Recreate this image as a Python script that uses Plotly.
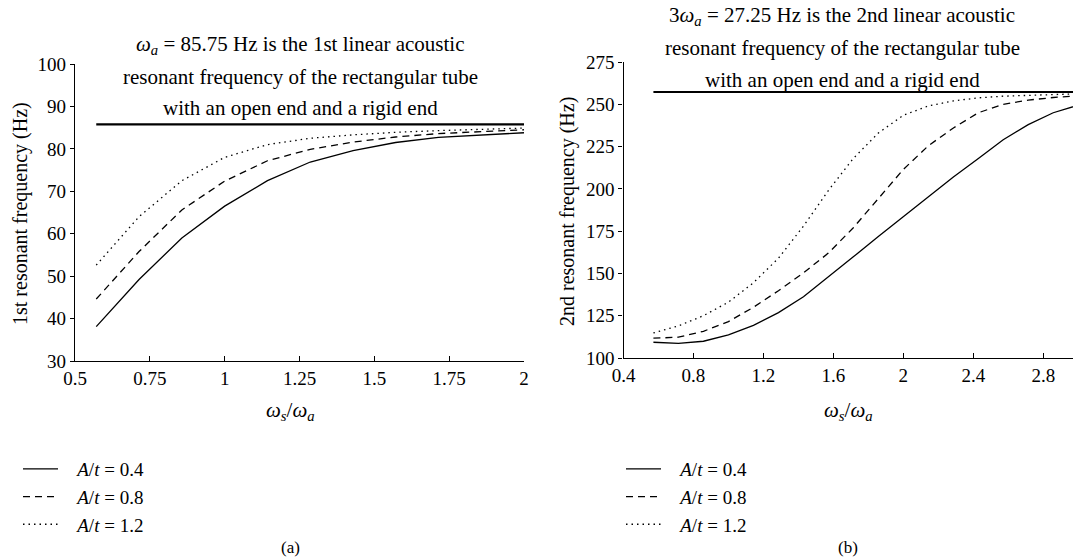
import plotly.graph_objects as go

# ---------------- data ----------------
x_a = [0.571, 0.714, 0.857, 1.0, 1.143, 1.286, 1.429, 1.571, 1.714, 1.857, 2.0]
a_04 = [38.1, 49.2, 59.0, 66.5, 72.5, 76.9, 79.6, 81.5, 82.7, 83.3, 83.8]
a_08 = [44.6, 55.8, 65.6, 72.4, 77.2, 79.9, 81.6, 82.8, 83.6, 84.1, 84.5]
a_12 = [52.6, 64.0, 72.5, 78.0, 81.0, 82.5, 83.3, 83.9, 84.3, 84.6, 84.9]
a_linear = 85.75

x_b = [0.571, 0.714, 0.857, 1.0, 1.143, 1.286, 1.429, 1.571, 1.714, 1.857,
       2.0, 2.143, 2.286, 2.429, 2.571, 2.714, 2.857, 3.0]
b_04 = [109.3, 108.6, 109.9, 113.7, 119.3, 126.8, 136.2, 147.8, 159.8, 171.8,
        183.5, 195.5, 207.0, 218.0, 229.0, 238.0, 245.0, 249.5]
b_08 = [111.7, 112.3, 115.8, 121.5, 130.0, 139.8, 150.3, 162.0, 177.0, 194.0,
        211.5, 225.5, 236.0, 245.0, 250.0, 252.5, 254.0, 255.0]
b_12 = [114.8, 119.0, 125.0, 133.0, 144.5, 159.0, 178.0, 199.0, 218.0, 233.0,
        243.5, 249.0, 252.0, 253.8, 254.8, 255.4, 255.8, 256.2]
b_linear = 257.25

series_labels = ["<i>A</i>/<i>t</i> = 0.4", "<i>A</i>/<i>t</i> = 0.8", "<i>A</i>/<i>t</i> = 1.2"]
xticks_a = [0.5, 0.75, 1, 1.25, 1.5, 1.75, 2]
xticklabels_a = ["0.5", "0.75", "1", "1.25", "1.5", "1.75", "2"]
yticks_a = [30, 40, 50, 60, 70, 80, 90, 100]
xticks_b = [0.4, 0.8, 1.2, 1.6, 2.0, 2.4, 2.8]
xticklabels_b = ["0.4", "0.8", "1.2", "1.6", "2", "2.4", "2.8"]
yticks_b = [100, 125, 150, 175, 200, 225, 250, 275]

# ---------------- style ----------------
FONT = "Liberation Serif"
W, H = 1073, 560
dashes = ["solid", "7px,5px", "1.5px,4px"]
LW = 1.3
PAD = "&nbsp;&nbsp;&nbsp;"

fig = go.Figure()

for ys, lab, d in zip([a_04, a_08, a_12], series_labels, dashes):
    fig.add_trace(go.Scatter(x=x_a, y=ys, mode="lines", name=PAD + lab,
                             line=dict(color="black", width=LW, dash=d),
                             xaxis="x", yaxis="y", legend="legend"))
fig.add_trace(go.Scatter(x=[x_a[0], x_a[-1]], y=[a_linear, a_linear], mode="lines",
                         line=dict(color="black", width=2.2), showlegend=False,
                         xaxis="x", yaxis="y"))

for ys, lab, d in zip([b_04, b_08, b_12], series_labels, dashes):
    fig.add_trace(go.Scatter(x=x_b, y=ys, mode="lines", name=PAD + lab,
                             line=dict(color="black", width=LW, dash=d),
                             xaxis="x2", yaxis="y2", legend="legend2"))
fig.add_trace(go.Scatter(x=[x_b[0], x_b[-1]], y=[b_linear, b_linear], mode="lines",
                         line=dict(color="black", width=2.2), showlegend=False,
                         xaxis="x2", yaxis="y2"))

tickfont = dict(family=FONT, size=19, color="black")
common_x = dict(showline=True, linecolor="black", linewidth=1.2, ticks="inside",
                ticklen=5, tickcolor="black", showgrid=False, zeroline=False,
                tickfont=tickfont, automargin=False)
common_y = dict(showline=True, linecolor="black", linewidth=1.2, ticks="outside",
                ticklen=4, tickcolor="black", showgrid=False, zeroline=False,
                tickfont=tickfont, automargin=False)

legfont = dict(family=FONT, size=19, color="black")
fig.update_layout(
    template="none",
    width=W, height=H, margin=dict(l=0, r=0, t=0, b=0, autoexpand=False),
    plot_bgcolor="white", paper_bgcolor="white",
    font=dict(family=FONT, size=21, color="black"),
    xaxis=dict(common_x, domain=[75 / W, 524 / W], range=[0.5, 2.0],
               tickvals=xticks_a, ticktext=xticklabels_a, anchor="y"),
    yaxis=dict(common_y, domain=[(H - 361) / H, (H - 64) / H], range=[30, 100],
               tickvals=yticks_a, anchor="x"),
    xaxis2=dict(common_x, domain=[623.5 / W, 1.0], range=[0.4, 2.97],
                tickvals=xticks_b, ticktext=xticklabels_b, anchor="y2"),
    yaxis2=dict(common_y, domain=[(H - 358) / H, (H - 62) / H], range=[100, 275],
                tickvals=yticks_b, anchor="x2"),
    legend=dict(x=18 / W, y=(H - 450) / H, xanchor="left", yanchor="top",
                bgcolor="rgba(0,0,0,0)", font=legfont, itemwidth=35,
                tracegroupgap=0),
    legend2=dict(x=621 / W, y=(H - 450) / H, xanchor="left", yanchor="top",
                 bgcolor="rgba(0,0,0,0)", font=legfont, itemwidth=35,
                 tracegroupgap=0),
)

ann = []
def add_text(x, y, text, size=21, angle=0):
    ann.append(dict(x=x / W, y=1 - y / H, xref="paper", yref="paper", text=text,
                    showarrow=False, xanchor="center", yanchor="middle",
                    font=dict(family=FONT, size=size, color="black"), textangle=angle))

# titles (left)
add_text(300, 45, "<i>ω</i><sub><i>a</i></sub> = 85.75 Hz is the 1st linear acoustic")
add_text(300, 77, "resonant frequency of the rectangular tube")
add_text(300, 108, "with an open end and a rigid end")
# titles (right)
add_text(842, 16, "3<i>ω</i><sub><i>a</i></sub> = 27.25 Hz is the 2nd linear acoustic")
add_text(842, 48, "resonant frequency of the rectangular tube")
add_text(842, 80, "with an open end and a rigid end")
# axis titles
add_text(20, 214, "1st resonant frequency (Hz)", size=20, angle=-90)
add_text(567, 212, "2nd resonant frequency (Hz)", size=20, angle=-90)
add_text(290, 411, "<i>ω</i><sub><i>s</i></sub>/<i>ω</i><sub><i>a</i></sub>")
add_text(848, 411, "<i>ω</i><sub><i>s</i></sub>/<i>ω</i><sub><i>a</i></sub>")
# captions
add_text(290, 547, "(a)", size=17)
add_text(848, 547, "(b)", size=17)

fig.update_layout(annotations=ann)
fig.write_html("out.html")
